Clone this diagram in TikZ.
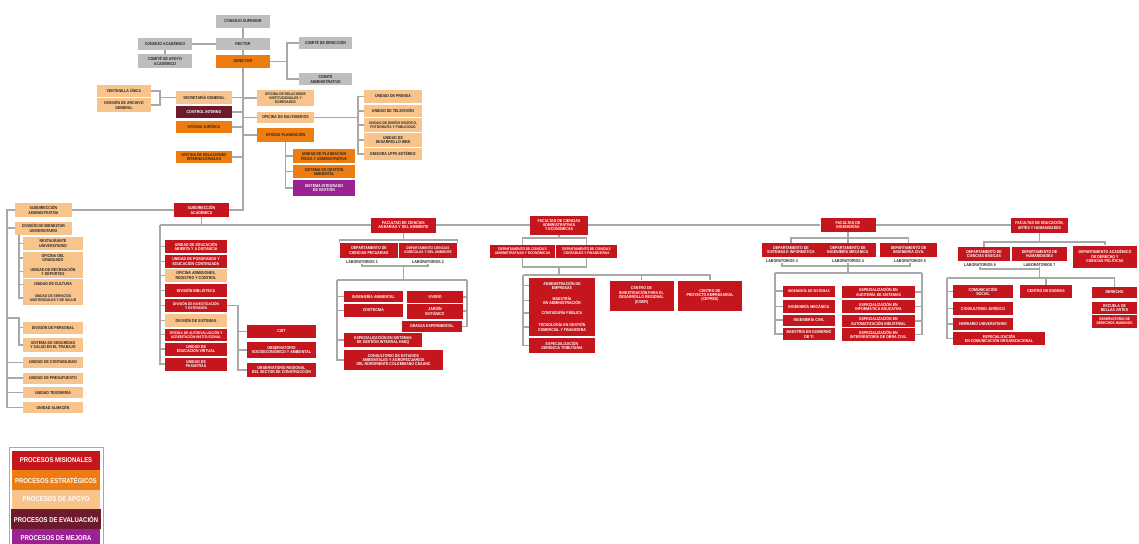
\documentclass[tikz,border=0pt]{standalone}
\usepackage{fontspec}
\setmainfont{Liberation Sans}[FakeStretch=0.85]

\definecolor{misred}{HTML}{C4161C}
\definecolor{estorange}{HTML}{EE7D11}
\definecolor{apolight}{HTML}{F8C48C}
\definecolor{evamaroon}{HTML}{6D1A2D}
\definecolor{mejpurple}{HTML}{9B2293}
\definecolor{govgray}{HTML}{BEBEBE}
\definecolor{linegray}{HTML}{A8A8A8}

\begin{document}
\begin{tikzpicture}[x=1pt, y=-1pt]
    \tikzstyle{box} = [rectangle, inner sep=0.3pt, align=center, font=\fontsize{4.2}{4.4}\selectfont\bfseries]
    \tikzstyle{mis} = [box, fill=misred, text=white]
    \tikzstyle{est} = [box, fill=estorange, text=black!85]
    \tikzstyle{apo} = [box, fill=apolight, text=black!85]
    \tikzstyle{eva} = [box, fill=evamaroon, text=white]
    \tikzstyle{mej} = [box, fill=mejpurple, text=white]
    \tikzstyle{gov} = [box, fill=govgray, text=black!85]
    \tikzstyle{tight} = [font=\fontsize{3.8}{4.1}\selectfont\bfseries]
    \tikzstyle{lab} = [inner sep=0.4pt, font=\fontsize{4.2}{4.4}\selectfont\bfseries, text=black!85]
    \tikzstyle{line} = [draw, linegray, line width=1.1pt]
    \tikzstyle{legend} = [rectangle, minimum width=88pt, minimum height=19.5pt, font=\fontsize{7}{8}\selectfont\bfseries, text=white]

    \useasboundingbox (0,0) rectangle (1139,543);

    % direction
    \node [gov, minimum width=54pt, minimum height=13pt] (csup) at (243,21.5) {CONSEJO SUPERIOR};
    \node [gov, minimum width=54pt, minimum height=12pt] (rector) at (243,44) {RECTOR};
    \node [gov, minimum width=54pt, minimum height=12pt] (cacad) at (165,44) {CONSEJO ACADÉMICO};
    \node [gov, minimum width=54pt, minimum height=14pt] (capoyo) at (165,61) {COMITÉ DE APOYO\\ACADÉMICO};
    \node [est, minimum width=54pt, minimum height=13pt] (director) at (243,61.5) {DIRECTOR};
    \node [gov, minimum width=53pt, minimum height=12pt] (cdir) at (325.5,43) {COMITÉ DE DIRECCIÓN};
    \node [gov, minimum width=53pt, minimum height=12pt] (cadm) at (325.5,79) {COMITÉ\\ADMINISTRATIVO};

    \node [apo, minimum width=54pt, minimum height=12pt] (ventanilla) at (124,91) {VENTANILLA ÚNICA};
    \node [apo, minimum width=54pt, minimum height=14pt] (archivo) at (124,105) {DIVISIÓN DE ARCHIVO\\GENERAL};
    \node [apo, minimum width=56pt, minimum height=13pt] (secgen) at (204,97.5) {SECRETARÍA GENERAL};
    \node [eva, minimum width=56pt, minimum height=12pt] (control) at (204,112) {CONTROL INTERNO};
    \node [est, minimum width=56pt, minimum height=12pt] (juridica) at (204,127) {OFICINA JURÍDICA};
    \node [est, minimum width=56pt, minimum height=12pt] (relint) at (204,157) {OFICINA DE RELACIONES\\INTERNACIONALES};
    \node [apo, tight, minimum width=57pt, minimum height=16pt] (relinst) at (285.5,98) {OFICINA DE RELACIONES\\INSTITUCIONALES Y\\EGRESADOS};
    \node [apo, minimum width=57pt, minimum height=11pt] (multimedios) at (285.5,117.5) {OFICINA DE MULTIMEDIOS};
    \node [est, minimum width=57pt, minimum height=14pt] (planeacion) at (285.5,135) {OFICINA PLANEACIÓN};

    \node [apo, minimum width=58pt, minimum height=13pt] (prensa) at (393,96.5) {UNIDAD DE PRENSA};
    \node [apo, minimum width=58pt, minimum height=12pt] (television) at (393,111) {UNIDAD DE TELEVISIÓN};
    \node [apo, tight, minimum width=58pt, minimum height=14pt] (diseno) at (393,125) {UNIDAD DE DISEÑO GRÁFICO,\\FOTOGRAFÍA Y PUBLICIDAD};
    \node [apo, minimum width=58pt, minimum height=14pt] (web) at (393,140) {UNIDAD DE\\DESARROLLO WEB};
    \node [apo, minimum width=58pt, minimum height=12pt] (emisora) at (393,154) {EMISORA UFPS ESTÉREO};

    \node [est, minimum width=62pt, minimum height=14pt] (planfis) at (324,156) {UNIDAD DE PLANEACIÓN\\FÍSICA Y ADMINISTRATIVA};
    \node [est, minimum width=62pt, minimum height=13pt] (sgamb) at (324,171.5) {SISTEMA DE GESTIÓN\\AMBIENTAL};
    \node [mej, minimum width=62pt, minimum height=16pt] (sig) at (324,188) {SISTEMA INTEGRADO\\DE GESTIÓN};

    % subdireccion administrativa
    \node [apo, minimum width=57pt, minimum height=14pt] (subadm) at (43.5,210) {SUBDIRECCIÓN\\ADMINISTRATIVA};
    \node [apo, minimum width=57pt, minimum height=13pt] (bienestar) at (43.5,228) {DIVISIÓN DE BIENESTAR\\UNIVERSITARIO};
    \node [apo, minimum width=60pt, minimum height=13pt] (restaurante) at (53,243.5) {RESTAURANTE\\UNIVERSITARIO};
    \node [apo, minimum width=60pt, minimum height=13pt] (graduado) at (53,258) {OFICINA DEL\\GRADUADO};
    \node [apo, minimum width=60pt, minimum height=13pt] (recreacion) at (53,271.5) {UNIDAD DE RECREACIÓN\\Y DEPORTES};
    \node [apo, minimum width=60pt, minimum height=12pt] (cultura) at (53,284.5) {UNIDAD DE CULTURA};
    \node [apo, tight, minimum width=60pt, minimum height=14pt] (servicios) at (53,298) {UNIDAD DE SERVICIOS\\ASISTENCIALES Y DE SALUD};
    \node [apo, minimum width=60pt, minimum height=12pt] (personal) at (53,327.5) {DIVISIÓN DE PERSONAL};
    \node [apo, minimum width=60pt, minimum height=14pt] (sst) at (53,345) {SISTEMA DE SEGURIDAD\\Y SALUD EN EL TRABAJO};
    \node [apo, minimum width=60pt, minimum height=11pt] (contabilidad) at (53,362.5) {UNIDAD DE CONTABILIDAD};
    \node [apo, minimum width=60pt, minimum height=11pt] (presupuesto) at (53,378) {UNIDAD DE PRESUPUESTO};
    \node [apo, minimum width=60pt, minimum height=11pt] (tesoreria) at (53,392.5) {UNIDAD TESORERÍA};
    \node [apo, minimum width=60pt, minimum height=11pt] (almacen) at (53,407.5) {UNIDAD ALMACÉN};

    % subdireccion academica
    \node [mis, minimum width=55pt, minimum height=14pt] (subacad) at (201.5,210) {SUBDIRECCIÓN\\ACADÉMICA};
    \node [mis, minimum width=62pt, minimum height=13pt] (abierta) at (196,246.5) {UNIDAD DE EDUCACIÓN\\ABIERTA Y A DISTANCIA};
    \node [mis, minimum width=62pt, minimum height=13pt] (posgrados) at (196,261.5) {UNIDAD DE POSGRADOS Y\\EDUCACIÓN CONTINUADA};
    \node [apo, minimum width=62pt, minimum height=13pt] (admisiones) at (196,275.5) {OFICINA ADMISIONES,\\REGISTRO Y CONTROL};
    \node [mis, minimum width=62pt, minimum height=13pt] (biblioteca) at (196,290.5) {DIVISIÓN BIBLIOTECA};
    \node [mis, tight, minimum width=62pt, minimum height=13pt] (investigacion) at (196,305.5) {DIVISIÓN DE INVESTIGACIÓN\\Y EXTENSIÓN};
    \node [apo, minimum width=62pt, minimum height=13pt] (sistemas) at (196,320.5) {DIVISIÓN DE SISTEMAS};
    \node [mis, tight, minimum width=62pt, minimum height=12pt] (autoeval) at (196,334.5) {OFICINA DE AUTOEVALUACIÓN Y\\ACREDITACIÓN INSTITUCIONAL};
    \node [mis, minimum width=62pt, minimum height=13pt] (virtual) at (196,349) {UNIDAD DE\\EDUCACIÓN VIRTUAL};
    \node [mis, minimum width=62pt, minimum height=13pt] (pasantias) at (196,364) {UNIDAD DE\\PASANTÍAS};
    \node [mis, minimum width=69pt, minimum height=13pt] (cidt) at (281.5,331.5) {CIDT};
    \node [mis, minimum width=69pt, minimum height=16pt] (socioeco) at (281.5,350) {OBSERVATORIO\\SOCIOECONÓMICO Y AMBIENTAL};
    \node [mis, minimum width=69pt, minimum height=14pt] (regional) at (281.5,370) {OBSERVATORIO REGIONAL\\DEL SECTOR DE CONSTRUCCIÓN};

    % facultad de ciencias agrarias
    \node [mis, minimum width=65pt, minimum height=15pt] (fagr) at (403.5,225) {FACULTAD DE CIENCIAS\\AGRARIAS Y DEL AMBIENTE};
    \node [mis, minimum width=58pt, minimum height=15pt] (pecuarias) at (369,250.5) {DEPARTAMENTO DE\\CIENCIAS PECUARIAS};
    \node [mis, tight, minimum width=58pt, minimum height=15pt] (agricolas) at (428,250.5) {DEPARTAMENTO CIENCIAS\\AGRÍCOLAS Y DEL AMBIENTE};
    \node [lab] (lab1) at (362,262) {LABORATORIOS 1};
    \node [lab] (lab2) at (428,262) {LABORATORIOS 2};
    \node [mis, minimum width=59pt, minimum height=11pt] (ambiental) at (373.5,296.5) {INGENIERÍA AMBIENTAL};
    \node [mis, minimum width=59pt, minimum height=13pt] (zootecnia) at (373.5,310.5) {ZOOTECNIA};
    \node [mis, minimum width=56pt, minimum height=12pt] (vivero) at (435,297) {VIVERO};
    \node [mis, minimum width=56pt, minimum height=15pt] (jardin) at (435,311) {JARDÍN\\BOTÁNICO};
    \node [mis, minimum width=60pt, minimum height=11pt] (granja) at (432,326.5) {GRANJA EXPERIMENTAL};
    \node [mis, minimum width=78pt, minimum height=14pt] (hseq) at (383,340) {ESPECIALIZACIÓN EN SISTEMAS\\DE GESTIÓN INTEGRAL HSEQ};
    \node [mis, minimum width=99pt, minimum height=20pt] (consultorio) at (393.5,360) {CONSULTORIO DE ESTUDIOS\\AMBIENTALES Y AGROPECUARIOS\\DEL NORORIENTE COLOMBIANO CEAANC};

    % facultad de ciencias administrativas
    \node [mis, minimum width=58pt, minimum height=19pt] (fadm) at (559,225) {FACULTAD DE CIENCIAS\\ADMINISTRATIVAS\\Y ECONÓMICAS};
    \node [mis, tight, minimum width=65pt, minimum height=13pt] (dptadm) at (522.5,251.5) {DEPARTAMENTO DE CIENCIAS\\ADMINISTRATIVAS Y ECONÓMICAS};
    \node [mis, tight, minimum width=61pt, minimum height=13pt] (dptcont) at (586.5,251.5) {DEPARTAMENTO DE CIENCIAS\\CONTABLES Y FINANCIERAS};
    \node [mis, minimum width=66pt, minimum height=15pt] (empresas) at (562,285.5) {ADMINISTRACIÓN DE\\EMPRESAS};
    \node [mis, minimum width=66pt, minimum height=15pt] (maestria) at (562,300.5) {MAESTRÍA\\EN ADMINISTRACIÓN};
    \node [mis, minimum width=66pt, minimum height=10pt] (contaduria) at (562,313) {CONTADURÍA PÚBLICA};
    \node [mis, minimum width=66pt, minimum height=18pt] (tecnologia) at (562,327) {TECNOLOGÍA EN GESTIÓN\\COMERCIAL Y FINANCIERA};
    \node [mis, minimum width=66pt, minimum height=15pt] (gerencia) at (562,345.5) {ESPECIALIZACIÓN\\GERENCIA TRIBUTARIA};
    \node [mis, minimum width=64pt, minimum height=30pt] (cider) at (641.5,295.5) {CENTRO DE\\INVESTIGACIÓN PARA EL\\DESARROLLO REGIONAL\\(CIDER)};
    \node [mis, minimum width=64pt, minimum height=30pt] (cepres) at (710,295.5) {CENTRO DE\\PROYECTO EMPRESARIAL\\(CEPRES)};

    % facultad de ingenierias
    \node [mis, minimum width=55pt, minimum height=14pt] (fing) at (848,225) {FACULTAD DE\\INGENIERÍAS};
    \node [mis, minimum width=58pt, minimum height=14pt] (dptsis) at (791,250) {DEPARTAMENTO DE\\SISTEMAS E INFORMÁTICA};
    \node [mis, minimum width=56pt, minimum height=14pt] (dptmec) at (848,250) {DEPARTAMENTO DE\\INGENIERÍA MECÁNICA};
    \node [mis, minimum width=57pt, minimum height=14pt] (dptciv) at (908.5,250) {DEPARTAMENTO DE\\INGENIERÍA CIVIL};
    \node [lab] (lab3) at (782,261) {LABORATORIOS 3};
    \node [lab] (lab4) at (848,261) {LABORATORIOS 4};
    \node [lab] (lab5) at (910,261) {LABORATORIOS 5};
    \node [mis, tight, minimum width=52pt, minimum height=11pt] (isis) at (809,291) {INGENIERÍA DE SISTEMAS};
    \node [mis, minimum width=52pt, minimum height=13pt] (imec) at (809,306.5) {INGENIERÍA MECÁNICA};
    \node [mis, minimum width=52pt, minimum height=11pt] (iciv) at (809,320) {INGENIERÍA CIVIL};
    \node [mis, minimum width=52pt, minimum height=12pt] (gobti) at (809,334) {MAESTRÍA EN GOBIERNO\\DE TI};
    \node [mis, minimum width=73pt, minimum height=12pt] (auditoria) at (878.5,292) {ESPECIALIZACIÓN EN\\AUDITORÍA DE SISTEMAS};
    \node [mis, minimum width=73pt, minimum height=13pt] (informatica) at (878.5,306.5) {ESPECIALIZACIÓN EN\\INFORMÁTICA EDUCATIVA};
    \node [mis, minimum width=73pt, minimum height=12pt] (automatizacion) at (878.5,321) {ESPECIALIZACIÓN EN\\AUTOMATIZACIÓN INDUSTRIAL};
    \node [mis, minimum width=73pt, minimum height=13pt] (interventoria) at (878.5,334.5) {ESPECIALIZACIÓN EN\\INTERVENTORÍA DE OBRA CIVIL};

    % facultad de educacion
    \node [mis, minimum width=57pt, minimum height=15pt] (fedu) at (1039.5,225) {FACULTAD DE EDUCACIÓN,\\ARTES Y HUMANIDADES};
    \node [mis, minimum width=52pt, minimum height=14pt] (dptbas) at (984,254) {DEPARTAMENTO DE\\CIENCIAS BÁSICAS};
    \node [mis, minimum width=55pt, minimum height=14pt] (dpthum) at (1039.5,254) {DEPARTAMENTO DE\\HUMANIDADES};
    \node [mis, minimum width=64pt, minimum height=22pt] (dptder) at (1105,256.5) {DEPARTAMENTO ACADÉMICO\\DE DERECHO Y\\CIENCIAS POLÍTICAS};
    \node [lab] (lab6) at (980,265) {LABORATORIOS 6};
    \node [lab] (lab7) at (1039.5,265) {LABORATORIOS 7};
    \node [mis, minimum width=60pt, minimum height=13pt] (comsocial) at (983,291.5) {COMUNICACIÓN\\SOCIAL};
    \node [mis, minimum width=60pt, minimum height=13pt] (cjuridico) at (983,308.5) {CONSULTORIO JURÍDICO};
    \node [mis, minimum width=60pt, minimum height=12pt] (herbario) at (983,324) {HERBARIO UNIVERSITARIO};
    \node [mis, minimum width=92pt, minimum height=13pt] (comorg) at (999,338.5) {ESPECIALIZACIÓN\\EN COMUNICACIÓN ORGANIZACIONAL};
    \node [mis, minimum width=52pt, minimum height=13pt] (idiomas) at (1046,291.5) {CENTRO DE IDIOMAS};
    \node [mis, minimum width=45pt, minimum height=11pt] (derecho) at (1114.5,292.5) {DERECHO};
    \node [mis, minimum width=45pt, minimum height=12pt] (bellas) at (1114.5,308) {ESCUELA DE\\BELLAS ARTES};
    \node [mis, tight, minimum width=45pt, minimum height=13pt] (ddhh) at (1114.5,321.5) {OBSERVATORIO DE\\DERECHOS HUMANOS};

    % legend
    \draw [linegray, line width=0.4pt] (9,447) rectangle (103,548);
    \node [legend, fill=misred] (lmis) at (56,460.5) {PROCESOS MISIONALES};
    \node [legend, fill=estorange] (lest) at (56,480) {PROCESOS ESTRATÉGICOS};
    \node [legend, fill=apolight] (lapo) at (56,499.5) {PROCESOS DE APOYO};
    \node [legend, fill=evamaroon] (leva) at (56,519) {PROCESOS DE EVALUACIÓN};
    \node [legend, fill=mejpurple] (lmej) at (56,538.5) {PROCESOS DE MEJORA};

    % connectors: direction
    \draw [line] (csup) -- (rector);
    \draw [line] (rector) -- (director);
    \draw [line] (cacad) -- (rector);
    \draw [line] (cacad) -- (capoyo);
    \coordinate (jdir) at (287,61.5);
    \draw [line] (director) -- (jdir) |- (cdir);
    \draw [line] (jdir) |- (cadm);
    \draw [line] (director) |- (subacad);
    \foreach \n in {secgen, control, juridica, relint, relinst, multimedios, planeacion}
        \draw [line] (\n) -- (\n -| director);
    \coordinate (jsec) at (160,97.5);
    \draw [line] (secgen) -- (jsec);
    \draw [line] (ventanilla) -| (jsec);
    \draw [line] (archivo) -| (jsec);
    \coordinate (jmul) at (358,117.5);
    \draw [line] (multimedios) -- (jmul);
    \foreach \n in {prensa, television, diseno, web, emisora}
        \draw [line] (jmul) |- (\n);
    \foreach \n in {planfis, sgamb, sig}
        \draw [line] (planeacion) |- (\n);

    % connectors: subdireccion administrativa
    \coordinate (jsad) at (7,210);
    \draw [line] (subadm) -- (subacad);
    \draw [line] (subadm) -- (jsad) |- (almacen);
    \foreach \n in {bienestar, contabilidad, presupuesto, tesoreria}
        \draw [line] (\n) -- (\n -| jsad);
    \coordinate (jbien) at (19,234.5);
    \foreach \n in {restaurante, graduado, recreacion, cultura, servicios}
        \draw [line] (jbien) |- (\n);
    \coordinate (jper) at (19,318);
    \draw [line] (jper -| jsad) -- (jper) |- (sst);
    \draw [line] (jper) |- (personal);

    % connectors: subdireccion academica
    \coordinate (jsac) at (160,225);
    \draw [line] (subacad) -- (subacad |- jsac);
    \draw [line] (jsac) -- (fagr);
    \draw [line] (fagr) -- (fadm);
    \draw [line] (fadm) -- (fing);
    \draw [line] (fing) -- (fedu);
    \draw [line] (jsac) |- (pasantias);
    \foreach \n in {abierta, posgrados, admisiones, biblioteca, investigacion, sistemas, autoeval, virtual}
        \draw [line] (\n) -- (\n -| jsac);
    \coordinate (jinv) at (238,305.5);
    \draw [line] (investigacion) -- (jinv) |- (regional);
    \draw [line] (jinv) |- (cidt);
    \draw [line] (jinv) |- (socioeco);

    % connectors: agrarias
    \coordinate (jagr1) at (403.5,240);
    \coordinate (jagr2) at (403.5,266);
    \coordinate (jagrl) at (337,280);
    \coordinate (jagrr) at (467,280);
    \draw [line] (fagr) -- (jagr1);
    \draw [line] (pecuarias.north west) |- (jagr1) -| (agricolas.north east);
    \draw [line] (lab1) |- (jagr2) -| (lab2);
    \draw [line] (jagr2) -- (jagr2 |- jagrl);
    \draw [line] (jagrl) -- (jagrr);
    \draw [line] (jagrl) |- (consultorio);
    \foreach \n in {ambiental, zootecnia, hseq}
        \draw [line] (\n) -- (\n -| jagrl);
    \draw [line] (jagrr) |- (granja);
    \foreach \n in {vivero, jardin}
        \draw [line] (\n) -- (\n -| jagrr);

    % connectors: administrativas
    \coordinate (jcae1) at (559,238);
    \coordinate (jcae2) at (559,267);
    \coordinate (jcael) at (523,275);
    \coordinate (jcaer) at (710,275);
    \draw [line] (fadm) -- (jcae1);
    \draw [line] (dptadm.north) |- (jcae1) -| (dptcont.north);
    \draw [line] (dptadm.south) |- (jcae2) -| (dptcont.south);
    \draw [line] (jcae2) -- (jcae2 |- jcael);
    \draw [line] (jcael) -- (jcaer) -- (cepres);
    \draw [line] (cider |- jcael) -- (cider);
    \draw [line] (jcael) |- (gerencia);
    \foreach \n in {empresas, maestria, contaduria, tecnologia}
        \draw [line] (\n) -- (\n -| jcael);

    % connectors: ingenierias
    \coordinate (jing1) at (848,238);
    \coordinate (jing2) at (848,266);
    \coordinate (jingl) at (775,273);
    \coordinate (jingr) at (922,273);
    \draw [line] (fing) -- (dptmec);
    \draw [line] (dptsis.north) |- (jing1) -| (dptciv.north);
    \draw [line] (lab3) |- (jing2) -| (lab5);
    \draw [line] (lab4) -- (jing2) -- (jing2 |- jingl);
    \draw [line] (jingl) -- (jingr);
    \draw [line] (jingl) |- (gobti);
    \foreach \n in {isis, imec, iciv}
        \draw [line] (\n) -- (\n -| jingl);
    \draw [line] (jingr) |- (interventoria);
    \foreach \n in {auditoria, informatica, automatizacion}
        \draw [line] (\n) -- (\n -| jingr);

    % connectors: educacion
    \coordinate (jedu1) at (1039.5,242);
    \coordinate (jedu2) at (1039.5,269);
    \coordinate (jedul) at (947,278);
    \coordinate (jedur) at (1114.5,278);
    \draw [line] (fedu) -- (jedu1);
    \draw [line] (dptbas.north) |- (jedu1) -| (dptder.north);
    \draw [line] (lab6) |- (jedu2);
    \draw [line] (lab7) -- (jedu2) -- (jedu2 |- jedul);
    \draw [line] (jedul) -- (jedur) -- (derecho);
    \draw [line] (idiomas |- jedul) -- (idiomas);
    \draw [line] (jedul) |- (comorg);
    \foreach \n in {comsocial, cjuridico, herbario}
        \draw [line] (\n) -- (\n -| jedul);
\end{tikzpicture}
\end{document}
